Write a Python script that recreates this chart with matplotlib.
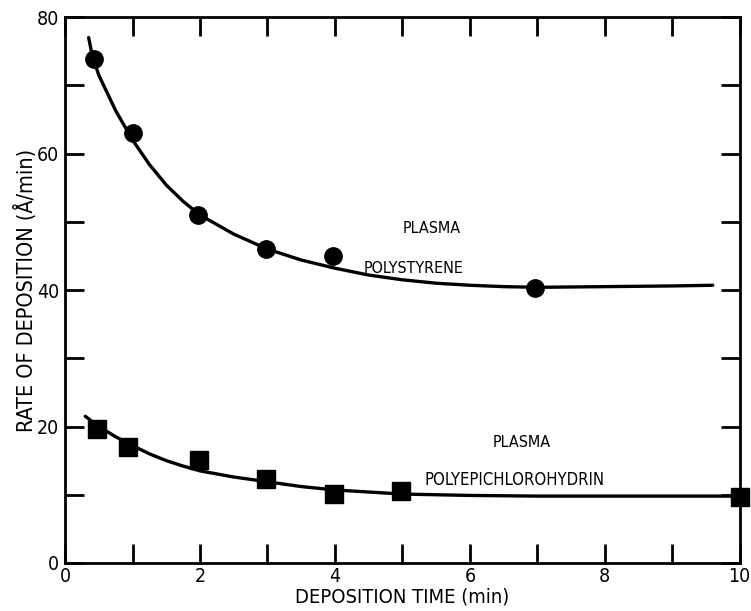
import matplotlib
matplotlib.use('Agg')
import matplotlib.pyplot as plt
from matplotlib.ticker import MultipleLocator

plt.rcParams['font.family'] = ['Liberation Sans Narrow', 'DejaVu Sans']
plt.rcParams['font.stretch'] = 'condensed'

# measured points
ps_t = [0.43, 1.0, 1.97, 2.98, 3.97, 6.97]
ps_rate = [73.8, 63.0, 51.0, 46.0, 45.0, 40.3]
pe_t = [0.47, 0.93, 1.99, 2.98, 3.98, 4.98, 10.0]
pe_rate = [19.6, 17.0, 15.1, 12.3, 10.1, 10.5, 9.7]

# fitted curves
ps_curve_t = [0.35, 0.4, 0.5, 0.75, 1.0, 1.25, 1.5, 1.75, 2.0, 2.5, 3.0, 3.5, 4.0, 4.5, 5.0, 5.5, 6.0, 6.5, 7.0, 8.0, 9.0, 9.6]
ps_curve_r = [77.0, 74.5, 71.5, 66.3, 62.0, 58.4, 55.4, 53.0, 51.0, 48.2, 46.0, 44.4, 43.2, 42.2, 41.5, 41.0, 40.7, 40.5, 40.4, 40.5, 40.6, 40.7]
pe_curve_t = [0.3, 0.5, 0.75, 1.0, 1.25, 1.5, 1.75, 2.0, 2.5, 3.0, 3.5, 4.0, 4.5, 5.0, 6.0, 7.0, 8.0, 9.0, 10.0]
pe_curve_r = [21.5, 20.0, 18.5, 17.2, 16.0, 15.0, 14.2, 13.5, 12.6, 11.9, 11.2, 10.7, 10.4, 10.1, 9.9, 9.8, 9.8, 9.8, 9.8]

fig = plt.figure(figsize=(7.51, 6.11), dpi=100)
ax = fig.add_axes([0.0866, 0.0786, 0.8984, 0.8934])

ax.plot(ps_curve_t, ps_curve_r, 'k-', lw=2.4, solid_capstyle='round')
ax.plot(pe_curve_t, pe_curve_r, 'k-', lw=2.4, solid_capstyle='round')
ax.plot(ps_t, ps_rate, 'ko', ms=12.5, clip_on=False)
ax.plot(pe_t, pe_rate, 'ks', ms=13, clip_on=False)

ax.text(5.44, 49, 'PLASMA', fontsize=11.5, ha='center', va='center')
ax.text(5.16, 43.2, 'POLYSTYRENE', fontsize=11.5, ha='center', va='center')
ax.text(6.77, 17.6, 'PLASMA', fontsize=11.5, ha='center', va='center')
ax.text(6.67, 12.2, 'POLYEPICHLOROHYDRIN', fontsize=12, ha='center', va='center')

ax.set_xlim(0, 10)
ax.set_ylim(0, 80)
ax.xaxis.set_major_locator(MultipleLocator(2))
ax.xaxis.set_minor_locator(MultipleLocator(1))
ax.yaxis.set_major_locator(MultipleLocator(20))
ax.yaxis.set_minor_locator(MultipleLocator(10))
ax.tick_params(which='both', direction='in', top=True, right=True, length=14, width=2, labelsize=14)
ax.tick_params(axis='x', pad=3)
ax.tick_params(axis='y', pad=4)
for s in ax.spines.values():
    s.set_linewidth(2)

ax.set_xlabel('DEPOSITION TIME (min)', fontsize=14.5, labelpad=1)
ax.set_ylabel('RATE OF DEPOSITION (Å/min)', fontsize=15.5, labelpad=0)

plt.savefig('out.png', dpi=100)
